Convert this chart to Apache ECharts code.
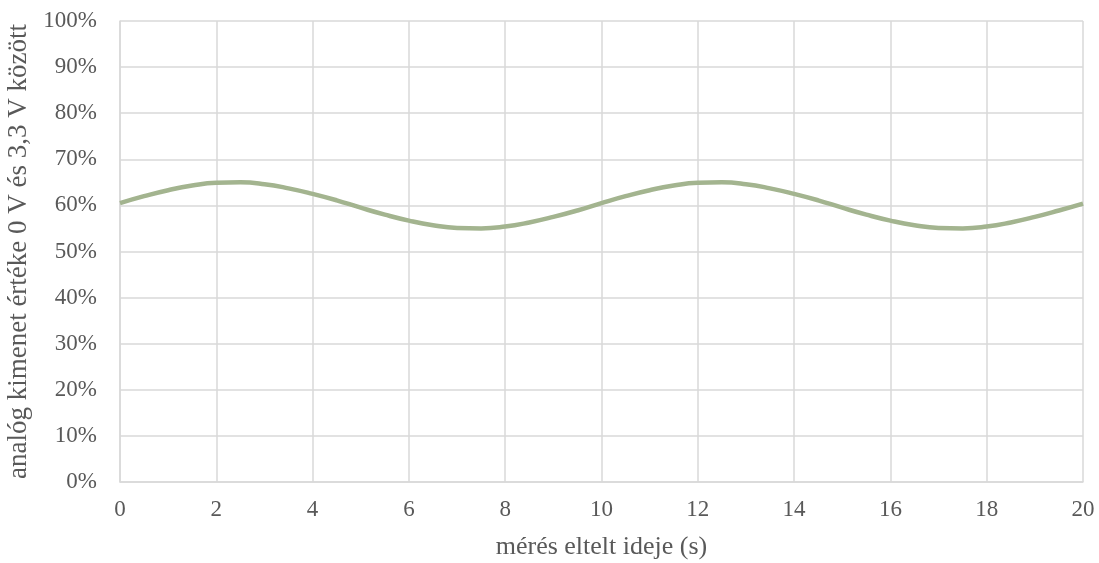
<!DOCTYPE html>
<html lang="hu">
<head>
    <meta charset="UTF-8">
    <title>Analóg kimenet</title>
    <script src="https://cdn.jsdelivr.net/npm/echarts@6/dist/echarts.min.js"></script>
    <style>
        html, body { margin: 0; padding: 0; background: #fff; }
        #chart { width: 1099px; height: 563px; }
    </style>
</head>
<body>
<div id="chart"></div>
<script>
    // mért idő (s)
    const times = [
        0, 0.5, 1, 1.5, 2, 2.5, 3, 3.5, 4, 4.5,
        5, 5.5, 6, 6.5, 7, 7.5, 8, 8.5, 9, 9.5,
        10, 10.5, 11, 11.5, 12, 12.5, 13, 13.5, 14, 14.5,
        15, 15.5, 16, 16.5, 17, 17.5, 18, 18.5, 19, 19.5, 20
    ];
    // kimenet értéke (%)
    const values = [
        60.5, 62.0, 63.3, 64.3, 64.9, 65.0, 64.6, 63.7, 62.5, 61.1,
        59.5, 58.0, 56.7, 55.7, 55.1, 55.0, 55.4, 56.3, 57.5, 58.9,
        60.5, 62.0, 63.3, 64.3, 64.9, 65.0, 64.6, 63.7, 62.5, 61.1,
        59.5, 58.0, 56.7, 55.7, 55.1, 55.0, 55.4, 56.3, 57.5, 58.9, 60.4
    ];

    const font = '"Liberation Serif", "Times New Roman", serif';
    const chart = echarts.init(document.getElementById('chart'));

    chart.setOption({
        animation: false,
        grid: { left: 120, right: 16, top: 21, bottom: 81, outerBoundsMode: 'none' },
        xAxis: {
            type: 'value',
            min: 0,
            max: 20,
            interval: 2,
            name: 'mérés eltelt ideje (s)',
            nameLocation: 'middle',
            nameGap: 52,
            nameTextStyle: { fontFamily: font, fontSize: 26, color: '#595959' },
            axisLine: { lineStyle: { color: '#d9d9d9', width: 1.5 } },
            axisTick: { show: false },
            axisLabel: { fontFamily: font, fontSize: 23, color: '#595959', margin: 16 },
            splitLine: { show: true, lineStyle: { color: '#d9d9d9', width: 1.5 } }
        },
        yAxis: {
            type: 'value',
            min: 0,
            max: 100,
            interval: 10,
            name: 'analóg kimenet értéke 0 V és 3,3 V között',
            nameLocation: 'middle',
            nameGap: 81,
            nameTextStyle: { fontFamily: font, fontSize: 27, color: '#595959' },
            axisLine: { show: true, lineStyle: { color: '#d9d9d9', width: 1.5 } },
            axisTick: { show: false },
            axisLabel: { fontFamily: font, fontSize: 23, color: '#595959', margin: 23, formatter: '{value}%' },
            splitLine: { show: true, lineStyle: { color: '#d9d9d9', width: 1.5 } }
        },
        series: [{
            type: 'line',
            data: times.map((t, i) => [t, values[i]]),
            smooth: true,
            showSymbol: false,
            lineStyle: { color: '#a3b48f', width: 4.5 }
        }]
    });
</script>
</body>
</html>
